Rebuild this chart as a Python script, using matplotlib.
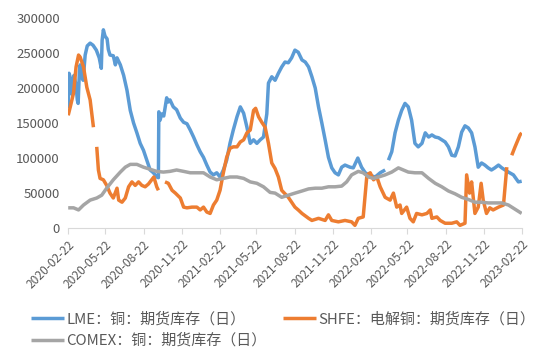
import matplotlib
matplotlib.use('Agg')
import matplotlib.pyplot as plt
import numpy as np
import pandas as pd

plt.rcParams['font.family'] = ['Noto Sans CJK SC', 'DejaVu Sans']

# LME copper futures stock (thousand tonnes)
lme_dates = ['2020-02-22', '2020-02-24', '2020-02-29', '2020-03-03', '2020-03-07', '2020-03-12',
             '2020-03-15', '2020-03-17', '2020-03-20', '2020-03-22', '2020-03-24', '2020-03-29',
             '2020-04-03', '2020-04-08', '2020-04-15', '2020-04-22', '2020-04-30', '2020-05-07',
             '2020-05-12', '2020-05-14', '2020-05-17', '2020-05-21', '2020-05-26', '2020-05-29',
             '2020-06-02', '2020-06-10', '2020-06-15', '2020-06-19', '2020-06-27', '2020-07-05',
             '2020-07-13', '2020-07-21', '2020-07-29', '2020-08-06', '2020-08-14', '2020-08-22',
             '2020-08-30', '2020-09-07', '2020-09-15', '2020-09-23', '2020-09-27', '2020-09-28',
             '2020-10-01', '2020-10-05', '2020-10-10', '2020-10-17', '2020-10-21', '2020-10-25',
             '2020-11-02', '2020-11-10', '2020-11-19', '2020-11-27', '2020-12-05', '2020-12-13',
             '2020-12-21', '2020-12-29', '2021-01-06', '2021-01-14', '2021-01-22', '2021-01-30',
             '2021-02-07', '2021-02-15', '2021-02-23', '2021-03-03', '2021-03-11', '2021-03-19',
             '2021-03-27', '2021-04-05', '2021-04-13', '2021-04-21', '2021-04-29', '2021-05-07',
             '2021-05-15', '2021-05-23', '2021-05-31', '2021-06-08', '2021-06-16', '2021-06-20',
             '2021-06-28', '2021-07-06', '2021-07-14', '2021-07-22', '2021-07-30', '2021-08-07',
             '2021-08-15', '2021-08-23', '2021-08-31', '2021-09-09', '2021-09-17', '2021-09-25',
             '2021-10-03', '2021-10-11', '2021-10-19', '2021-10-27', '2021-11-04', '2021-11-12',
             '2021-11-20', '2021-11-28', '2021-12-06', '2021-12-14', '2021-12-22', '2022-01-03',
             '2022-01-11', '2022-01-22', '2022-01-31', '2022-02-09', '2022-02-17', '2022-03-05',
             '2022-03-17', '2022-03-29', '2022-04-02', '2022-04-06', '2022-04-14', '2022-04-22',
             '2022-04-30', '2022-05-08', '2022-05-16', '2022-05-24', '2022-06-01', '2022-06-09',
             '2022-06-17', '2022-06-26', '2022-07-04', '2022-07-12', '2022-07-20', '2022-07-28',
             '2022-08-05', '2022-08-13', '2022-08-21', '2022-08-29', '2022-09-06', '2022-09-14',
             '2022-09-22', '2022-09-30', '2022-10-08', '2022-10-16', '2022-10-24', '2022-11-01',
             '2022-11-09', '2022-11-17', '2022-11-25', '2022-12-03', '2022-12-11', '2022-12-19',
             '2022-12-28', '2023-01-05', '2023-01-13', '2023-01-21', '2023-02-02', '2023-02-14',
             '2023-02-22']
lme_stock = [171, 221, 211, 190, 218, 204,
             183, 178, 223, 233, 218, 211,
             247, 260, 264, 261, 254, 243,
             228, 268, 283, 274, 270, 255,
             247, 246, 233, 243, 233, 218,
             197, 168, 150, 136, 121, 111,
             97, 83, 79, 73, 72, 166,
             154, 163, 160, 186, 180, 183,
             173, 169, 157, 151, 149, 140,
             130, 119, 109, 101, 90, 80,
             76, 79, 73, 83, 97, 121,
             140, 159, 173, 164, 144, 121,
             126, 121, 126, 130, 163, 207,
             216, 211, 221, 230, 237, 236,
             243, 254, 251, 240, 237, 230,
             216, 200, 173, 150, 126, 101,
             86, 79, 76, 87, 90, 87,
             86, 100, 87, 79, 76, 73,
             79, 83, None, 97, 109, 136,
             154, 168, 178, 173, 154, 121,
             116, 121, 136, 130, 133, 130,
             129, 126, 123, 116, 104, 103,
             116, 137, 146, 143, 136, 116,
             87, 93, 90, 86, 83, 86,
             90, 86, 83, 80, 76, 66,
             67]

# SHFE electrolytic copper futures stock
shfe_dates = ['2020-02-22', '2020-02-27', '2020-03-06', '2020-03-12', '2020-03-18', '2020-03-22',
              '2020-03-30', '2020-04-07', '2020-04-15', '2020-04-23', '2020-04-28', '2020-05-01',
              '2020-05-05', '2020-05-09', '2020-05-17', '2020-05-25', '2020-06-02', '2020-06-10',
              '2020-06-19', '2020-06-23', '2020-07-01', '2020-07-09', '2020-07-17', '2020-07-25',
              '2020-08-02', '2020-08-10', '2020-08-18', '2020-08-26', '2020-09-03', '2020-09-11',
              '2020-09-16', '2020-09-23', '2020-09-27', '2020-10-03', '2020-10-13', '2020-10-21',
              '2020-10-30', '2020-11-07', '2020-11-19', '2020-11-27', '2020-12-05', '2020-12-17',
              '2020-12-29', '2021-01-06', '2021-01-14', '2021-01-22', '2021-01-30', '2021-02-07',
              '2021-02-15', '2021-02-23', '2021-03-03', '2021-03-11', '2021-03-19', '2021-03-27',
              '2021-04-05', '2021-04-13', '2021-04-21', '2021-04-29', '2021-05-07', '2021-05-15',
              '2021-05-20', '2021-05-27', '2021-06-04', '2021-06-12', '2021-06-20', '2021-06-28',
              '2021-07-06', '2021-07-14', '2021-07-22', '2021-08-07', '2021-08-15', '2021-08-23',
              '2021-08-31', '2021-09-09', '2021-09-25', '2021-10-03', '2021-10-19', '2021-11-04',
              '2021-11-12', '2021-11-20', '2021-12-06', '2021-12-22', '2022-01-07', '2022-01-15',
              '2022-01-23', '2022-02-04', '2022-02-13', '2022-02-21', '2022-03-01', '2022-03-09',
              '2022-03-17', '2022-03-29', '2022-04-10', '2022-04-18', '2022-04-26', '2022-05-04',
              '2022-05-08', '2022-05-20', '2022-05-28', '2022-06-05', '2022-06-13', '2022-06-26',
              '2022-07-08', '2022-07-16', '2022-07-20', '2022-08-01', '2022-08-09', '2022-08-21',
              '2022-09-06', '2022-09-18', '2022-09-26', '2022-10-08', '2022-10-12', '2022-10-19',
              '2022-10-24', '2022-11-01', '2022-11-09', '2022-11-16', '2022-11-21', '2022-11-29',
              '2022-12-07', '2022-12-15', '2022-12-28', '2023-01-09', '2023-01-17', '2023-01-20',
              '2023-01-29', '2023-02-06', '2023-02-18', '2023-02-22']
shfe_stock = [161, 173, 193, 230, 247, 244,
              230, 201, 183, 144, None, 116,
              83, 71, 69, 61, 50, 43,
              57, 40, 37, 43, 59, 66,
              61, 66, 61, 59, 63, 69,
              73, 59, 54, None, 66, 64,
              54, 50, 43, 30, 29, 30,
              30, 26, 30, 23, 21, 33,
              40, 54, 79, 101, 114, 116,
              116, 123, 126, 136, 140, 168,
              171, 159, 151, 144, 121, 93,
              85, 73, 54, 44, 37, 30,
              26, 21, 14, 11, 14, 11,
              19, 11, 9, 11, 9, 4,
              14, 16, 76, 79, 69, 73,
              59, 44, 40, 50, 30, 33,
              21, 30, 14, 9, 21, 19,
              21, 26, 14, 16, 11, 7,
              7, 9, 4, 7, 76, 50,
              66, 21, 30, 64, 40, 21,
              29, 26, 30, 33, 87, None,
              104, 116, 133, 136]

# COMEX copper futures stock
comex_dates = ['2020-02-22', '2020-03-06', '2020-03-18', '2020-03-30', '2020-04-15', '2020-05-01',
               '2020-05-13', '2020-05-25', '2020-06-10', '2020-06-27', '2020-07-09', '2020-07-21',
               '2020-08-06', '2020-08-22', '2020-09-07', '2020-09-23', '2020-10-09', '2020-10-25',
               '2020-11-10', '2020-11-27', '2020-12-13', '2020-12-29', '2021-01-14', '2021-01-30',
               '2021-02-15', '2021-03-03', '2021-03-19', '2021-04-05', '2021-04-21', '2021-05-07',
               '2021-05-23', '2021-06-08', '2021-06-24', '2021-07-06', '2021-07-22', '2021-08-07',
               '2021-08-23', '2021-09-09', '2021-09-25', '2021-10-11', '2021-10-27', '2021-11-12',
               '2021-11-28', '2021-12-14', '2021-12-26', '2022-01-07', '2022-01-23', '2022-02-04',
               '2022-02-17', '2022-03-01', '2022-03-13', '2022-03-29', '2022-04-14', '2022-04-30',
               '2022-05-08', '2022-05-24', '2022-06-09', '2022-06-26', '2022-07-12', '2022-07-28',
               '2022-08-13', '2022-08-29', '2022-09-14', '2022-09-30', '2022-10-16', '2022-11-01',
               '2022-11-17', '2022-12-03', '2022-12-19', '2023-01-05', '2023-01-21', '2023-02-06',
               '2023-02-22']
comex_stock = [29, 29, 26, 33, 40, 43,
               47, 57, 69, 80, 87, 91,
               91, 87, 84, 81, 80, 81,
               83, 81, 79, 79, 79, 73,
               69, 71, 73, 73, 71, 66,
               64, 59, 51, 50, 44, 47,
               50, 53, 56, 57, 57, 59,
               59, 60, 66, 76, 81, 79,
               73, 71, 73, 76, 80, 86,
               84, 80, 79, 79, 71, 64,
               59, 53, 49, 44, 41, 37,
               37, 36, 36, 36, 33, 27,
               21]

tick_dates = ['2020-02-22', '2020-05-22', '2020-08-22', '2020-11-22', '2021-02-22', '2021-05-22',
              '2021-08-22', '2021-11-22', '2022-02-22', '2022-05-22', '2022-08-22', '2022-11-22',
              '2023-02-22']

labels = ['LME：铜：期货库存（日）', 'SHFE：电解铜：期货库存（日）', 'COMEX：铜：期货库存（日）']
colors = ['#5B9BD5', '#ED7D31', '#A5A5A5']


def to_series(dates, vals):
    # thousands of tonnes -> tonnes, None -> gap
    v = np.array([np.nan if x is None else x * 1000.0 for x in vals])
    return pd.to_datetime(dates), v


fig = plt.figure(figsize=(5.5, 3.51), dpi=100)
ax = fig.add_axes([0.124, 0.350, 0.8245, 0.599])

series = [(lme_dates, lme_stock), (shfe_dates, shfe_stock), (comex_dates, comex_stock)]
handles = []
for (d, v), lab, c in zip(series, labels, colors):
    x, y = to_series(d, v)
    h, = ax.plot(x, y, color=c, lw=2.5, label=lab, solid_capstyle='butt')
    handles.append(h)

ticks = pd.to_datetime(tick_dates)
ax.set_xlim(ticks[0], ticks[-1])
ax.set_ylim(0, 300000)
ax.set_yticks(np.arange(0, 300001, 50000))
ax.set_xticks(ticks)
ax.set_xticklabels(tick_dates, rotation=45, ha='right', rotation_mode='anchor')

for s in ['top', 'right', 'left']:
    ax.spines[s].set_visible(False)
ax.spines['bottom'].set_color('#D9D9D9')
ax.tick_params(axis='y', length=0, labelsize=9.5, labelcolor='#595959', pad=6)
ax.tick_params(axis='x', length=4, color='#D9D9D9', labelsize=8.6, labelcolor='#595959', pad=3)

# legend: LME and SHFE on first row, COMEX on second
fig.legend([handles[0], handles[2], handles[1]], [labels[0], labels[2], labels[1]],
           ncol=2, loc='upper left', bbox_to_anchor=(0.045, 0.128), frameon=False,
           fontsize=10.8, handlelength=2.2, handletextpad=0.15, columnspacing=1.1,
           labelspacing=0.45, borderaxespad=0, labelcolor='#595959')

plt.savefig('out.png', dpi=100)
